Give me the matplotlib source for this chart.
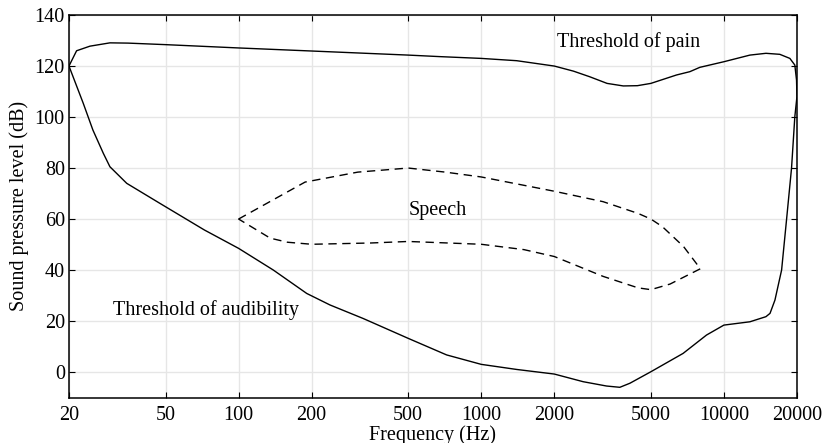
import matplotlib
matplotlib.use("Agg")
import matplotlib.pyplot as plt

# threshold of pain (upper solid curve), low -> high frequency
pain_f = [20, 21.5, 24.4, 29.5, 35, 50, 100, 200, 500, 675, 1000, 1400, 2000,
          2400, 2800, 3300, 3850, 4400, 5000, 6380, 7240, 7960, 10000, 12800,
          14900, 17000, 18700, 19600, 19920, 20000]
pain_db = [120, 126, 127.8, 129.1, 129, 128.4, 127.1, 125.9, 124.3, 123.7, 123,
           122.1, 120, 118, 115.8, 113.2, 112.2, 112.3, 113.2, 116.5, 117.8,
           119.5, 121.7, 124.3, 125, 124.6, 123, 120.4, 114.5, 108]

# threshold of audibility (lower solid curve incl. right edge), low -> high
aud_f = [20, 22.9, 25.1, 27.7, 29.5, 34.6, 47.3, 72.3, 100, 139, 191, 238, 326,
         500, 720, 1000, 1400, 2000, 2630, 3285, 3725, 4100, 5000, 6790, 8480,
         10000, 12800, 14900, 15490, 16230, 17290, 18130, 19000, 19600]
aud_db = [120, 105.4, 94.9, 85.8, 80.5, 74, 66.2, 55.7, 48.5, 40, 30.8, 26.3,
          21, 13.2, 6.7, 3, 1.0, -0.8, -3.8, -5.5, -6.0, -4.4, 0.1, 7.3, 14.5,
          18.4, 19.7, 21.7, 23, 28.2, 40, 60, 80, 100.1]

# speech region (dashed)
speech_upper_f = [100, 188, 310, 500, 711, 1000, 2000, 3180, 4430, 5000, 5580, 6820, 8000]
speech_upper_db = [60, 74.5, 78.4, 80, 78.4, 76.5, 70.9, 66.8, 62.2, 60, 57, 49.2, 40.5]
speech_lower_f = [100, 135, 159, 200, 350, 500, 1000, 1500, 2000, 3180, 4430, 5000, 6000, 8000]
speech_lower_db = [60, 52.5, 50.9, 50.1, 50.6, 51.2, 50.1, 48, 45.3, 37.5, 33, 32.3, 34.5, 40.5]

xticks = [20, 50, 100, 200, 500, 1000, 2000, 5000, 10000, 20000]
yticks = [0, 20, 40, 60, 80, 100, 120, 140]

plt.rcParams['font.family'] = ['Liberation Serif', 'DejaVu Serif']
plt.rcParams['xtick.direction'] = 'in'
plt.rcParams['ytick.direction'] = 'in'

fig = plt.figure(figsize=(8.25, 4.43), dpi=100)
ax = fig.add_axes([0.0836, 0.1027, 0.8824, 0.8633])

solid_f = pain_f + aud_f[::-1]
solid_db = pain_db + aud_db[::-1]
ax.plot(solid_f, solid_db, color='black', lw=1.0)

sp_f = speech_upper_f + speech_lower_f[::-1]
sp_db = speech_upper_db + speech_lower_db[::-1]
ax.plot(sp_f, sp_db, color='black', lw=1.0, dashes=(6, 4))

ax.set_xscale('log')
ax.set_xlim(20, 20000)
ax.set_ylim(-10, 140)
ax.set_xticks(xticks)
ax.set_xticklabels([str(t) for t in xticks])
ax.minorticks_off()
ax.set_yticks(yticks)
ax.grid(True, color='#e6e6e6', lw=1.0)
ax.set_axisbelow(True)
ax.tick_params(top=True, right=True, length=4.5, width=0.8, labelsize=14.5)
ax.tick_params(axis='x', pad=6)
ax.tick_params(axis='y', pad=3)
for s in ax.spines.values():
    s.set_linewidth(1.1)

ax.set_xlabel("Frequency (Hz)", fontsize=14.5, labelpad=0)
ax.set_ylabel("Sound pressure level (dB)", fontsize=14.5, labelpad=4)

ax.text(2050, 129.4, "Threshold of pain", fontsize=14.5, ha='left', va='center')
ax.text(662, 63.5, "Speech", fontsize=14.5, ha='center', va='center')
ax.text(30.4, 24.3, "Threshold of audibility", fontsize=14.5, ha='left', va='center')

fig.savefig("out.png", dpi=100)
